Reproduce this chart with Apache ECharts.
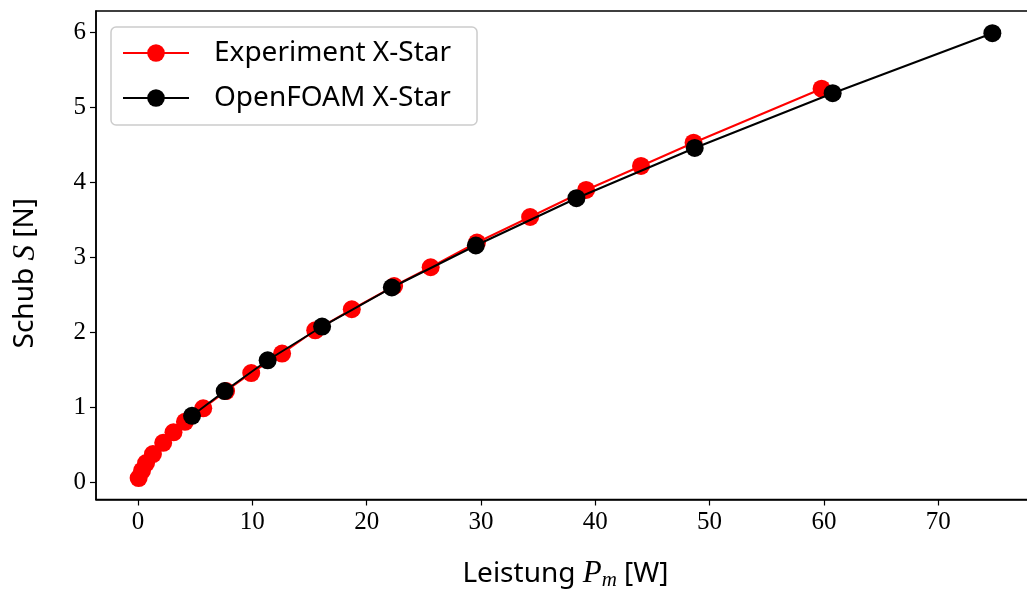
<!DOCTYPE html>
<html>
<head>
<meta charset="utf-8">
<script src="https://cdn.jsdelivr.net/npm/echarts@6/dist/echarts.min.js"></script>
<style>
  html, body { margin: 0; padding: 0; background: #fff; }
  #main { width: 1027px; height: 589px; }
</style>
</head>
<body>
<div id="main"></div>
<script>
// Experiment X-Star (rot)
var expP = [0.05, 0.35, 0.7, 1.3, 2.2, 3.1, 4.1, 5.7, 7.7, 9.9, 12.6, 15.5, 18.7, 22.4, 25.6, 29.65, 34.3, 39.2, 44.0, 48.6, 59.8];
var expS = [0.06, 0.16, 0.26, 0.38, 0.53, 0.67, 0.81, 0.99, 1.22, 1.46, 1.72, 2.03, 2.31, 2.62, 2.87, 3.2, 3.54, 3.9, 4.22, 4.53, 5.25];
// OpenFOAM X-Star (schwarz)
var cfdP = [4.72, 7.58, 11.34, 16.1, 22.2, 29.55, 38.35, 48.7, 60.77, 74.74];
var cfdS = [0.89, 1.22, 1.63, 2.08, 2.60, 3.16, 3.79, 4.46, 5.19, 5.99];

var xTicks = [0, 10, 20, 30, 40, 50, 60, 70];
var yTicks = [0, 1, 2, 3, 4, 5, 6];

function pairs(xs, ys) {
    var out = [];
    for (var i = 0; i < xs.length; i++) out.push([xs[i], ys[i]]);
    return out;
}

var myChart = echarts.init(document.getElementById('main'));
var tickFont = {color: '#000', fontFamily: 'Liberation Serif', fontSize: 25};
var sans = 'Noto Sans';

myChart.setOption({
    animation: false,
    backgroundColor: '#fff',
    grid: {
        left: 96, top: 11, width: 939, height: 488.5,
        outerBoundsMode: 'none', containLabel: false,
        show: true, borderColor: '#000', borderWidth: 1.5, backgroundColor: 'transparent'
    },
    legend: {
        orient: 'vertical',
        left: 111, top: 27,
        padding: [10, 26, 11, 11],
        itemWidth: 66, itemHeight: 22, itemGap: 13,
        backgroundColor: 'rgba(255,255,255,0.8)',
        borderColor: '#ccc', borderWidth: 1.5, borderRadius: 5,
        textStyle: {color: '#000', fontFamily: sans, fontSize: 28, lineHeight: 32, padding: [0, 0, 0, 20]},
        data: ['Experiment X-Star', 'OpenFOAM X-Star']
    },
    xAxis: {
        type: 'value', min: -3.68, max: 78.47,
        axisLine: {show: true, onZero: false, lineStyle: {color: '#000', width: 1.5}},
        axisTick: {show: true, length: 6, lineStyle: {color: '#000', width: 1.2}, customValues: xTicks},
        axisLabel: Object.assign({margin: 10, customValues: xTicks}, tickFont),
        splitLine: {show: false},
        name: 'Leistung {i|P}{s|m} [W]',
        nameLocation: 'middle', nameGap: 58,
        nameTextStyle: {
            color: '#000', fontFamily: sans, fontSize: 28,
            rich: {
                i: {fontFamily: 'Liberation Serif', fontStyle: 'italic', fontSize: 31, color: '#000'},
                s: {fontFamily: 'Liberation Serif', fontStyle: 'italic', fontSize: 21, color: '#000', padding: [12, 0, 0, 0]}
            }
        }
    },
    yAxis: {
        type: 'value', min: -0.226, max: 6.286,
        axisLine: {show: true, onZero: false, lineStyle: {color: '#000', width: 1.5}},
        axisTick: {show: true, length: 6, lineStyle: {color: '#000', width: 1.2}, customValues: yTicks},
        axisLabel: Object.assign({margin: 10, customValues: yTicks}, tickFont),
        splitLine: {show: false},
        name: 'Schub {i|S} [N]',
        nameLocation: 'middle', nameGap: 55,
        nameTextStyle: {
            color: '#000', fontFamily: sans, fontSize: 28,
            padding: [0, 36, 0, 0],
            rich: {
                i: {fontFamily: 'Liberation Serif', fontStyle: 'italic', fontSize: 31, color: '#000'}
            }
        }
    },
    series: [{
        name: 'Experiment X-Star',
        type: 'line',
        data: pairs(expP, expS),
        symbol: 'circle', symbolSize: 18,
        itemStyle: {color: '#ff0000'},
        lineStyle: {color: '#ff0000', width: 2},
        z: 2
    }, {
        name: 'OpenFOAM X-Star',
        type: 'line',
        data: pairs(cfdP, cfdS),
        symbol: 'circle', symbolSize: 18,
        itemStyle: {color: '#000000'},
        lineStyle: {color: '#000000', width: 2},
        z: 3
    }]
});
</script>
</body>
</html>
